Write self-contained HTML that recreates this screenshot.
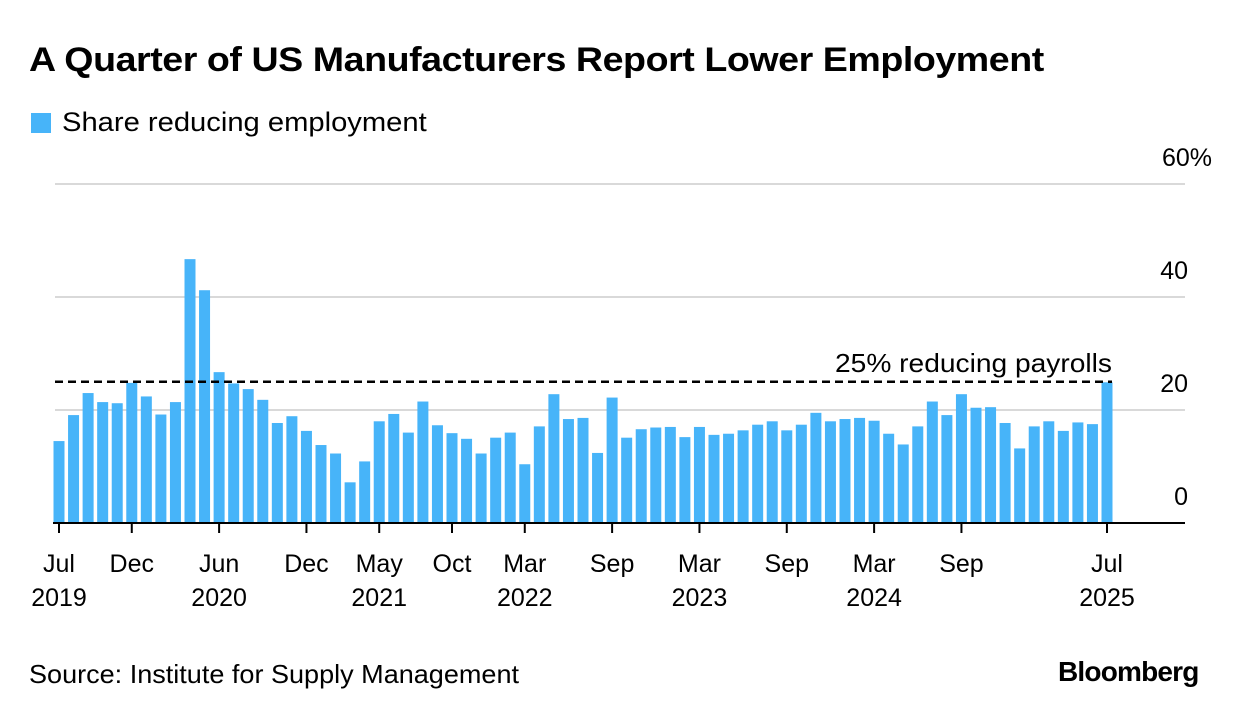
<!DOCTYPE html>
<html><head><meta charset="utf-8"><style>
body{margin:0;background:#fff;font-family:"Liberation Sans",sans-serif;}
#root{position:relative;width:1240px;height:716px;overflow:hidden}
.t{position:absolute;white-space:nowrap;color:#000;transform-origin:left top}
</style></head><body><div id="root">
<div class="t" style="left:29px;top:41px;font-size:34px;font-weight:bold;letter-spacing:-0.4px;transform:scaleX(1.105)">A Quarter of US Manufacturers Report Lower Employment</div>
<div style="position:absolute;left:31px;top:113px;width:20px;height:20px;background:#47b4f9"></div>
<div class="t" style="left:62px;top:107px;font-size:27px;transform:scaleX(1.08)">Share reducing employment</div>
<svg id="chart" width="1240" height="716" style="position:absolute;left:0;top:0"></svg>
<div class="t" style="left:29px;top:659px;font-size:26px;transform:scaleX(1.04)">Source: Institute for Supply Management</div>
<div class="t" style="left:1058px;top:656px;font-size:28px;font-weight:bold;letter-spacing:-0.8px">Bloomberg</div>
</div>
<script>
const values=[14.5,19.1,23.0,21.4,21.2,24.8,22.4,19.2,21.4,46.7,41.2,26.7,24.7,23.7,21.8,17.7,18.9,16.3,13.8,12.3,7.2,10.9,18.0,19.3,16.0,21.5,17.3,15.9,14.9,12.3,15.1,16.0,10.4,17.1,22.8,18.4,18.6,12.4,22.2,15.1,16.6,16.9,17.0,15.2,17.0,15.6,15.8,16.4,17.4,18.0,16.4,17.4,19.5,18.0,18.4,18.6,18.1,15.8,13.9,17.1,21.5,19.1,22.8,20.4,20.5,17.7,13.2,17.1,18.0,16.3,17.8,17.5,24.9];
const yTicks=[0,20,40,60];
const yTickLabels=["0","20","40","60%"];
const xTickIdx=[0,5,11,17,22,27,32,38,44,50,56,62,72];
const xTickMonth=["Jul","Dec","Jun","Dec","May","Oct","Mar","Sep","Mar","Sep","Mar","Sep","Jul"];
const xTickYear=["2019","","2020","","2021","","2022","","2023","","2024","","2025"];
const refValue=25;
const svg=document.getElementById('chart');const NS='http://www.w3.org/2000/svg';
const x=i=>59+i*(1048/72);
const y=v=>523-v*(339/60);
function mk(t,a){const e=document.createElementNS(NS,t);for(const k in a)e.setAttribute(k,a[k]);svg.appendChild(e);return e;}
yTicks.forEach((v,i)=>{
 if(v>0){const g=mk('line',{x1:55,x2:1185,y1:y(v),y2:y(v),stroke:'#d9d9d9','stroke-width':2});
 
 }
 const t=mk('text',{x:v==60?1212:1188,y:y(v)-18,'text-anchor':'end','font-size':25,'font-family':'Liberation Sans, sans-serif'});
 t.textContent=yTickLabels[i];
 
 
});
values.forEach((v,i)=>{
 const r=mk('rect',{x:x(i)-5.5,y:y(v),width:11,height:y(0)-y(v),fill:'#47b4f9'});
 
 
});
const ax=mk('line',{x1:53,x2:1185,y1:523,y2:523,stroke:'#000','stroke-width':2});


const ref=mk('line',{x1:55,x2:1112,y1:y(refValue),y2:y(refValue),stroke:'#000','stroke-width':2.5,'stroke-dasharray':'8 5'});


const rl=mk('text',{x:1112,y:y(refValue)-10,'text-anchor':'end','font-size':26,'font-family':'Liberation Sans, sans-serif',textLength:277,lengthAdjust:'spacingAndGlyphs'});
rl.textContent='25% reducing payrolls';


xTickIdx.forEach((idx,i)=>{
 const tk=mk('line',{x1:x(idx),x2:x(idx),y1:523,y2:533,stroke:'#000','stroke-width':2});
 
 
 const t=mk('text',{x:x(idx),y:572,'text-anchor':'middle','font-size':25,'font-family':'Liberation Sans, sans-serif'});
 t.textContent=xTickMonth[i];
 
 
 if(xTickYear[i]){const t2=mk('text',{x:x(idx),y:606,'text-anchor':'middle','font-size':25,'font-family':'Liberation Sans, sans-serif'});
 t2.textContent=xTickYear[i];
 
 }
});
</script></body></html>
